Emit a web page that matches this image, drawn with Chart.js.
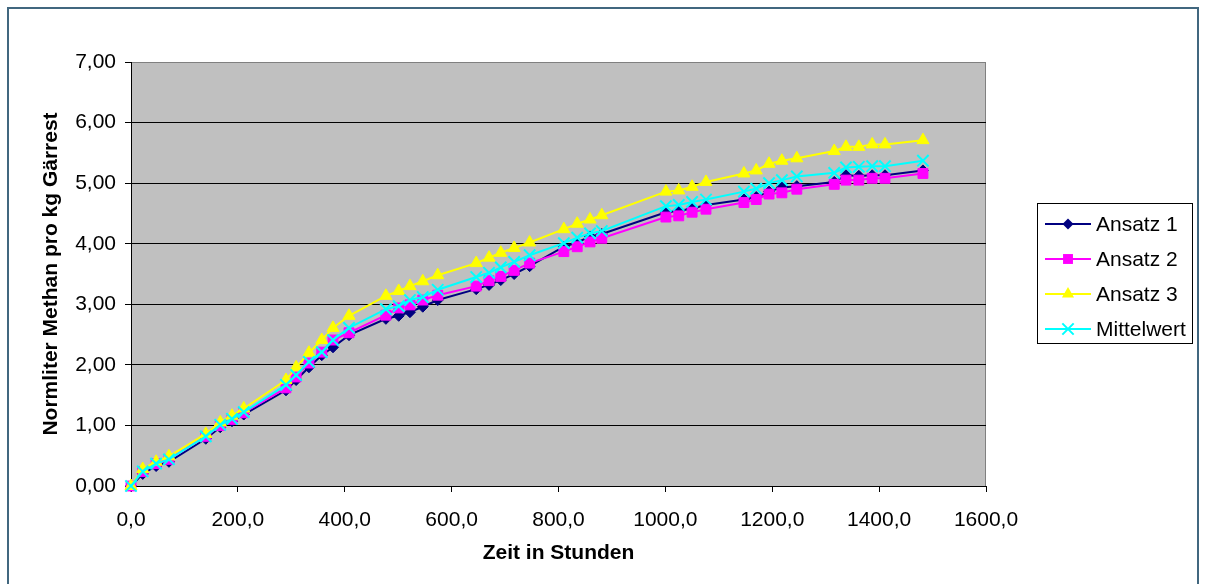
<!DOCTYPE html>
<html>
<head>
<meta charset="utf-8">
<script src="https://cdn.jsdelivr.net/npm/chart.js@4.4.1/dist/chart.umd.min.js"></script>
<style>
html, body { margin: 0; padding: 0; background: #fff; }
#wrap { position: relative; width: 1208px; height: 584px; overflow: hidden; }
#frame { position: absolute; left: 7px; top: 7px; width: 1188px; height: 600px; border: 2px solid #41677f; }
canvas { position: absolute; left: 0; top: 0; }
</style>
</head>
<body>
<div id="wrap">
  <div id="frame"></div>
  <canvas id="methanChart" width="1208" height="584"></canvas>
</div>
<script>
// Zeit in Stunden
const hours = [0, 22, 47, 71, 140, 167, 189, 211,
  290, 309, 333, 357, 378, 408,
  477, 501, 522, 546, 574,
  646, 670, 692, 717, 746,
  810, 835, 859, 881,
  1001, 1025, 1050, 1076,
  1147, 1170, 1194, 1218, 1246,
  1316, 1338, 1362, 1387, 1411, 1482];

const ansatz1 = [0, 0.20, 0.33, 0.40, 0.78, 0.97, 1.07, 1.18,
  1.58, 1.75, 1.96, 2.16, 2.29, 2.49,
  2.76, 2.81, 2.87, 2.96, 3.07,
  3.25, 3.32, 3.40, 3.50, 3.63,
  3.95, 4.02, 4.12, 4.16,
  4.52, 4.54, 4.58, 4.64,
  4.73, 4.77, 4.86, 4.93, 4.95,
  5.02, 5.13, 5.12, 5.13, 5.13, 5.21];

const ansatz2 = [0, 0.24, 0.37, 0.44, 0.82, 1.00, 1.10, 1.21,
  1.62, 1.80, 2.03, 2.21, 2.41, 2.53,
  2.82, 2.94, 2.99, 3.07, 3.15,
  3.30, 3.39, 3.46, 3.56, 3.68,
  3.87, 3.95, 4.03, 4.09,
  4.44, 4.46, 4.52, 4.57,
  4.68, 4.73, 4.82, 4.84, 4.90,
  4.98, 5.05, 5.05, 5.08, 5.08, 5.16];

const ansatz3 = [0, 0.28, 0.40, 0.49, 0.86, 1.05, 1.16, 1.28,
  1.75, 1.96, 2.20, 2.41, 2.61, 2.81,
  3.14, 3.22, 3.30, 3.38, 3.48,
  3.68, 3.77, 3.85, 3.93, 4.02,
  4.24, 4.33, 4.40, 4.47,
  4.86, 4.88, 4.94, 5.02,
  5.16, 5.21, 5.32, 5.37, 5.41,
  5.53, 5.60, 5.60, 5.64, 5.64, 5.71];

const mittelwert = [0, 0.24, 0.37, 0.44, 0.82, 1.01, 1.11, 1.22,
  1.67, 1.83, 2.05, 2.21, 2.41, 2.61,
  2.92, 2.97, 3.07, 3.12, 3.24,
  3.45, 3.52, 3.61, 3.70, 3.81,
  4.01, 4.10, 4.17, 4.21,
  4.62, 4.64, 4.69, 4.73,
  4.86, 4.91, 5.00, 5.05, 5.11,
  5.17, 5.26, 5.27, 5.28, 5.28, 5.37];

const xTickLabels = ['0,0', '200,0', '400,0', '600,0', '800,0', '1000,0', '1200,0', '1400,0', '1600,0'];
const yTickLabels = ['0,00', '1,00', '2,00', '3,00', '4,00', '5,00', '6,00', '7,00'];

const FONT = "'Liberation Sans', Arial, sans-serif";

function toPoints(values) {
  return hours.map(function (h, i) { return { x: h, y: values[i] }; });
}

const series = [
  { label: 'Ansatz 1', values: ansatz1, color: '#000080', style: 'rectRot', radius: 5.5 },
  { label: 'Ansatz 2', values: ansatz2, color: '#ff00ff', style: 'rect', radius: 7 },
  { label: 'Ansatz 3', values: ansatz3, color: '#ffff00', style: 'triangle', radius: 7 },
  { label: 'Mittelwert', values: mittelwert, color: '#00ffff', style: 'crossRot', radius: 8 }
];

// grauer Plotbereich
const plotBackground = {
  id: 'plotBackground',
  beforeDraw: function (chart) {
    const a = chart.chartArea;
    const ctx = chart.ctx;
    ctx.save();
    ctx.fillStyle = '#c0c0c0';
    ctx.fillRect(a.left, a.top, a.right - a.left, a.bottom - a.top);
    ctx.strokeStyle = '#808080';
    ctx.lineWidth = 1;
    ctx.beginPath();
    ctx.moveTo(a.left, a.top + 0.5);
    ctx.lineTo(a.right - 0.5, a.top + 0.5);
    ctx.lineTo(a.right - 0.5, a.bottom);
    ctx.stroke();
    ctx.restore();
  }
};

function drawMarker(ctx, style, x, y, r, color) {
  ctx.fillStyle = color;
  ctx.strokeStyle = color;
  ctx.beginPath();
  if (style === 'rectRot') {
    ctx.moveTo(x, y - r); ctx.lineTo(x + r, y); ctx.lineTo(x, y + r); ctx.lineTo(x - r, y);
    ctx.closePath(); ctx.fill();
  } else if (style === 'rect') {
    const s = r * Math.SQRT1_2;
    ctx.rect(x - s, y - s, 2 * s, 2 * s); ctx.fill();
  } else if (style === 'triangle') {
    const h = r * 1.5, w = r * Math.sqrt(3) / 2;
    ctx.moveTo(x, y - r); ctx.lineTo(x + w, y + r / 2); ctx.lineTo(x - w, y + r / 2);
    ctx.closePath(); ctx.fill();
  } else {
    const d = r * Math.SQRT1_2;
    ctx.lineWidth = 2;
    ctx.moveTo(x - d, y - d); ctx.lineTo(x + d, y + d);
    ctx.moveTo(x + d, y - d); ctx.lineTo(x - d, y + d);
    ctx.stroke();
  }
}

// Legende im Excel-Stil mit Rahmen
const boxLegend = {
  id: 'boxLegend',
  afterDraw: function (chart) {
    const ctx = chart.ctx;
    const left = 1037, top = 203, width = 155, height = 140;
    ctx.save();
    ctx.fillStyle = '#fff';
    ctx.fillRect(left, top, width, height);
    ctx.strokeStyle = '#000';
    ctx.lineWidth = 1;
    ctx.strokeRect(left + 0.5, top + 0.5, width, height);
    series.forEach(function (s, i) {
      const y = top + 21 + i * 35;
      ctx.strokeStyle = s.color;
      ctx.lineWidth = 2;
      ctx.beginPath();
      ctx.moveTo(left + 8, y);
      ctx.lineTo(left + 54, y);
      ctx.stroke();
      drawMarker(ctx, s.style, left + 31, y, s.radius, s.color);
      ctx.fillStyle = '#000';
      ctx.font = '21px ' + FONT;
      ctx.textBaseline = 'middle';
      ctx.textAlign = 'left';
      ctx.fillText(s.label, left + 59, y + 1);
    });
    ctx.restore();
  }
};

const ctx = document.getElementById('methanChart').getContext('2d');
const methanChart = new Chart(ctx, {
  type: 'line',
  data: {
    datasets: series.map(function (s, i) {
      return {
        label: s.label,
        data: toPoints(s.values),
        borderColor: s.color,
        backgroundColor: s.color,
        borderWidth: 2,
        pointStyle: s.style,
        pointRadius: s.radius,
        pointBorderWidth: s.style === 'crossRot' ? 2 : 1,
        tension: 0,
        clip: false,
        order: 4 - i
      };
    })
  },
  options: {
    responsive: false,
    animation: false,
    layout: { padding: { left: 0, top: 62, right: 222, bottom: 0 } },
    plugins: {
      legend: { display: false },
      tooltip: { enabled: false }
    },
    scales: {
      x: {
        type: 'linear',
        min: 0,
        max: 1600,
        afterFit: function (scale) { scale.height = 98; },
        ticks: {
          stepSize: 200,
          padding: 16,
          color: '#000',
          font: { family: FONT, size: 21 },
          maxRotation: 0,
          callback: function (v, i) { return xTickLabels[i]; }
        },
        grid: { drawOnChartArea: false, drawTicks: true, tickLength: 6, tickColor: '#000' },
        border: { color: '#000', width: 1 },
        title: {
          display: true,
          text: 'Zeit in Stunden',
          color: '#000',
          font: { family: FONT, size: 21, weight: 'bold' },
          padding: { top: 0, bottom: 18 }
        }
      },
      y: {
        min: 0,
        max: 7,
        afterFit: function (scale) { scale.width = 131; },
        ticks: {
          stepSize: 1,
          padding: 9,
          color: '#000',
          font: { family: FONT, size: 21 },
          callback: function (v, i) { return yTickLabels[i]; }
        },
        grid: {
          color: function (c) { return c.tick && c.tick.value === 7 ? '#808080' : '#000'; },
          tickColor: '#000',
          tickLength: 6
        },
        border: { color: '#000', width: 1 },
        title: {
          display: true,
          text: 'Normliter Methan pro kg Gärrest',
          color: '#000',
          font: { family: FONT, size: 21, weight: 'bold' },
          padding: { top: 39, bottom: 0 }
        }
      }
    }
  },
  plugins: [plotBackground, boxLegend]
});
</script>
</body>
</html>
